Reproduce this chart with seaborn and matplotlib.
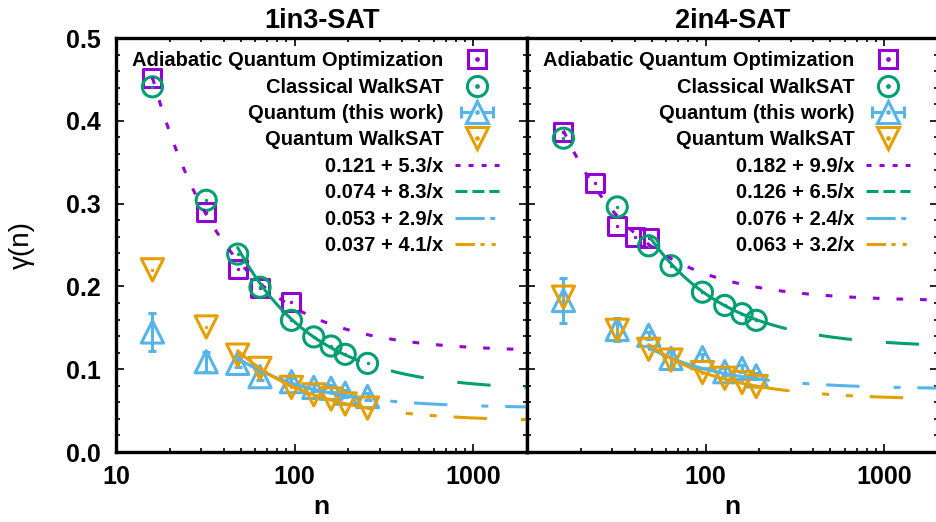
import numpy as np
import matplotlib
matplotlib.use("Agg")
import matplotlib.pyplot as plt
import seaborn as sns
from matplotlib.lines import Line2D
from matplotlib.legend_handler import HandlerLine2D, HandlerTuple
from matplotlib.ticker import MultipleLocator, LogLocator, NullFormatter, FormatStrFormatter

# ---- data ----
panel_titles = ["1in3-SAT", "2in4-SAT"]
series_labels = ["Adiabatic Quantum Optimization", "Classical WalkSAT",
                 "Quantum (this work)", "Quantum WalkSAT"]

# 1in3-SAT
aqo_n_13 = [16, 32, 48, 64, 96]
aqo_g_13 = [0.452, 0.290, 0.221, 0.198, 0.181]
cw_n_13 = [16, 32, 48, 64, 96, 128, 160, 192, 256]
cw_g_13 = [0.441, 0.304, 0.239, 0.199, 0.159, 0.139, 0.128, 0.118, 0.107]
qt_n_13 = [16, 32, 48, 64, 96, 128, 160, 192, 256]
qt_g_13 = [0.145, 0.109, 0.107, 0.091, 0.085, 0.078, 0.077, 0.071, 0.067]
qt_e_13 = [0.023, 0.012, 0.004, 0.004, 0.004, 0.004, 0.004, 0.004, 0.004]
qw_n_13 = [16, 32, 48, 64, 96, 128, 160, 192, 256]
qw_g_13 = [0.220, 0.151, 0.117, 0.101, 0.078, 0.069, 0.064, 0.058, 0.053]

# 2in4-SAT
aqo_n_24 = [16, 24, 32, 40, 48]
aqo_g_24 = [0.386, 0.325, 0.273, 0.260, 0.258]
cw_n_24 = [16, 32, 48, 64, 96, 128, 160, 192]
cw_g_24 = [0.379, 0.296, 0.249, 0.225, 0.193, 0.177, 0.167, 0.159]
qt_n_24 = [16, 32, 48, 64, 96, 128, 160, 192]
qt_g_24 = [0.183, 0.148, 0.141, 0.113, 0.114, 0.097, 0.101, 0.092]
qt_e_24 = [0.027, 0.014, 0.004, 0.010, 0.004, 0.004, 0.004, 0.004]
qw_n_24 = [16, 32, 48, 64, 96, 128, 160, 192]
qw_g_24 = [0.187, 0.147, 0.124, 0.111, 0.096, 0.089, 0.084, 0.079]

# fits a + b/x (x scale is what the drawn curve in the reference implies)
fit_a_13 = [0.121, 0.074, 0.053, 0.037]
fit_b_13 = [5.3, 8.3, 2.9, 4.1]
fit_xs_13 = [1, 1, 1, 1]
fit_a_24 = [0.182, 0.126, 0.076, 0.063]
fit_b_24 = [9.9, 6.5, 2.4, 3.2]
fit_xs_24 = [3, 1, 1, 1]
fit_start = [16, 48, 48, 48]
solid_to_13 = [None, 228, 222, 272]
solid_to_24 = [None, 280, 225, 290]

# ---- style ----
colors = ["#9400D3", "#009E73", "#56B4E9", "#E69F00"]
tails = [(0, (4.8, 12.2)),
         (24, (24, 24.5)),
         (24, (24, 24.5, 5, 12.2)),
         (24, (24, 24.5, 5, 12.2, 5, 12.2))]
key_styles = [(0, (3.6, 5.8)),
              (0, (8.6, 3.6)),
              (0, (21, 4, 3.6, 10)),
              (0, (14, 4, 3, 5, 3, 10))]

sns.set_style("ticks")
plt.rcParams['font.family'] = ['Liberation Sans', 'DejaVu Sans']
plt.rcParams['font.weight'] = 'bold'
plt.rcParams['lines.scale_dashes'] = False
plt.rcParams['axes.linewidth'] = 2.4
for key in ['text.color', 'axes.labelcolor', 'axes.edgecolor', 'xtick.color', 'ytick.color']:
    plt.rcParams[key] = 'black'

fig = plt.figure(figsize=(9.36, 5.22), dpi=100)
ax1 = fig.add_axes([116 / 936, 1 - 452 / 522, 411 / 936, 414 / 522])
ax2 = fig.add_axes([527 / 936, 1 - 452 / 522, 411 / 936, 414 / 522])

LW = 2.2
MEW = 2.2
MS = {'s': 13, 'o': 14.5, '^': 16, 'v': 16}


def open_markers(ax, n, g, marker, color):
    sns.scatterplot(x=n, y=g, marker=marker, s=MS[marker] ** 2, facecolors='none',
                    edgecolor=color, linewidth=MEW, ax=ax, zorder=3)
    sns.scatterplot(x=n, y=g, marker='o', s=6, color=color, edgecolor=color,
                    linewidth=0, ax=ax, zorder=3)


def key_marker(marker, color, face='none'):
    return (Line2D([], [], ls='none', marker=marker, ms=MS[marker], mfc=face,
                   mec=color, mew=MEW),
            Line2D([], [], ls='none', marker='o', ms=2.4, color=color))


def draw_panel(ax, title, aqo, cw, qt, qw, fa, fb, fxs, solid_to, show_ylabels):
    # markers
    open_markers(ax, aqo[0], aqo[1], 's', colors[0])
    open_markers(ax, cw[0], cw[1], 'o', colors[1])
    ax.errorbar(qt[0], qt[1], yerr=qt[2], fmt='none', ecolor=colors[2],
                elinewidth=2.2, capsize=3, capthick=2.2, zorder=3)
    open_markers(ax, qt[0], qt[1], '^', colors[2])
    open_markers(ax, qw[0], qw[1], 'v', colors[3])

    # fit curves
    for i in range(4):
        if solid_to[i] is None:
            n = np.geomspace(fit_start[i], 2000, 300)
            sns.lineplot(x=n, y=fa[i] + fb[i] / (fxs[i] * n), ax=ax, color=colors[i],
                         lw=LW, linestyle=tails[i], estimator=None, zorder=4)
        else:
            n = np.geomspace(fit_start[i], solid_to[i], 100)
            sns.lineplot(x=n, y=fa[i] + fb[i] / (fxs[i] * n), ax=ax, color=colors[i],
                         lw=LW, estimator=None, zorder=4)
            n = np.geomspace(solid_to[i], 2000, 300)
            sns.lineplot(x=n, y=fa[i] + fb[i] / (fxs[i] * n), ax=ax, color=colors[i],
                         lw=LW, linestyle=tails[i], estimator=None, zorder=4)

    ax.set_xscale('log')
    ax.set_xlim(10, 2000)
    ax.set_ylim(0, 0.5)
    ax.set_yticks(np.arange(0, 0.51, 0.1))
    ax.yaxis.set_minor_locator(MultipleLocator(0.02))
    ax.set_xticks([10, 100, 1000])
    ax.xaxis.set_minor_locator(LogLocator(base=10, subs=np.arange(2, 10)))
    ax.xaxis.set_minor_formatter(NullFormatter())
    if show_ylabels:
        ax.set_xticklabels(['10', '100', '1000'])
        ax.yaxis.set_major_formatter(FormatStrFormatter('%.1f'))
        ax.set_ylabel('γ(n)', fontsize=20, fontweight='normal', labelpad=22)
    else:
        ax.set_xticklabels(['', '100', '1000'])
        ax.set_yticklabels([])
    ax.tick_params(which='both', direction='in', top=True, right=True,
                   labelsize=18, width=1.2)
    ax.tick_params(axis='y', pad=11)
    ax.tick_params(axis='x', pad=9)
    ax.tick_params(which='major', length=6)
    ax.tick_params(which='minor', length=3)
    ax.set_xlabel('n', fontsize=19, fontweight='bold', labelpad=5)
    ax.set_title(title, fontsize=19.5, fontweight='bold', pad=7)

    # legend in the gnuplot style: text right, sample left
    caps = Line2D([], [], color=colors[2], lw=2.2, marker='|', ms=8, mew=2.2)
    h_qt = (caps,) + key_marker('^', colors[2], face='white')
    fit_handles = [Line2D([], [], color=colors[i], lw=LW, linestyle=key_styles[i]) for i in range(4)]
    fit_labels = [f"{fa[i]:.3f} + {fb[i]}/x" for i in range(4)]
    handles = [key_marker('s', colors[0]), key_marker('o', colors[1]), h_qt,
               key_marker('v', colors[3])] + fit_handles
    ax.legend(handles, series_labels + fit_labels,
              loc='upper right', bbox_to_anchor=(1 - 12 / 411, 1 + 3 / 414),
              frameon=False, markerfirst=False,
              prop={'family': 'Liberation Sans', 'weight': 'bold', 'size': 14.5},
              handlelength=2.2, handletextpad=0.55, labelspacing=0.37,
              borderaxespad=0.6, borderpad=0.2,
              handler_map={tuple: HandlerTuple(ndivide=1), caps: HandlerLine2D(numpoints=2)})


draw_panel(ax1, panel_titles[0], (aqo_n_13, aqo_g_13), (cw_n_13, cw_g_13),
           (qt_n_13, qt_g_13, qt_e_13), (qw_n_13, qw_g_13),
           fit_a_13, fit_b_13, fit_xs_13, solid_to_13, True)
draw_panel(ax2, panel_titles[1], (aqo_n_24, aqo_g_24), (cw_n_24, cw_g_24),
           (qt_n_24, qt_g_24, qt_e_24), (qw_n_24, qw_g_24),
           fit_a_24, fit_b_24, fit_xs_24, solid_to_24, False)

fig.savefig('out.png', dpi=100)
